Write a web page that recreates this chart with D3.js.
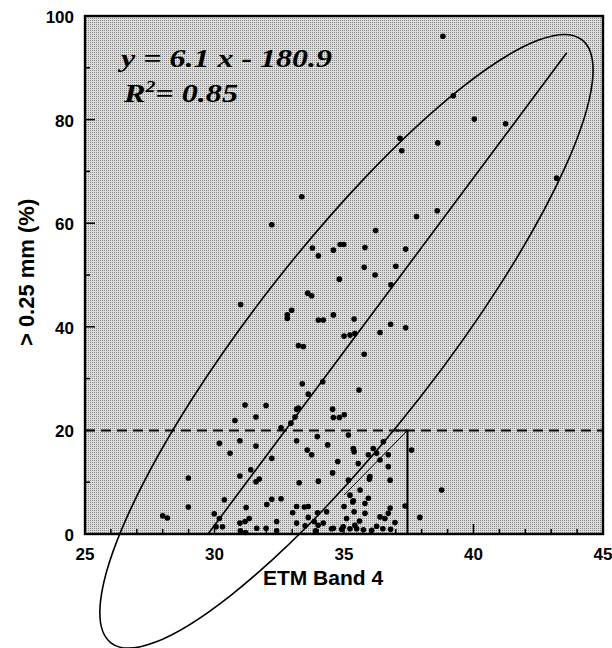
<!DOCTYPE html>
<html>
<head>
<meta charset="utf-8">
<script src="https://cdn.jsdelivr.net/npm/d3@7/dist/d3.min.js"></script>
<style>
  body { margin: 0; background: #fff; }
  svg { display: block; }
  .tick-label { font-family: Arial, "Liberation Sans", sans-serif; font-weight: bold; font-size: 17px; }
</style>
</head>
<body>
<div id="chart"></div>
<script>
// ETM Band 4 reflectance vs. share of aggregates > 0.25 mm
const pointsUpper = [
  [38.82, 96.1], [39.22, 84.6], [40.03, 80.1], [41.24, 79.2], [37.16, 76.4], [37.23, 74.0],
  [38.62, 75.5], [43.21, 68.7], [38.60, 62.4], [37.8, 61.3], [33.37, 65.1], [32.21, 59.7],
  [33.78, 55.2], [34.01, 53.7], [34.59, 54.8], [34.85, 55.9], [34.99, 55.9], [34.82, 49.2],
  [33.6, 46.5], [33.75, 46.0], [31.01, 44.3], [32.98, 43.2], [32.81, 42.3], [32.81, 41.6],
  [34.01, 41.3], [34.2, 41.3], [34.59, 42.3], [35.39, 41.5], [35.0, 38.2], [35.23, 38.4],
  [35.42, 38.7], [33.24, 36.4], [33.43, 36.2], [33.39, 29.0], [34.18, 29.4], [33.62, 27.0],
  [35.58, 27.8], [35.81, 55.3], [37.38, 55.0], [35.78, 51.5], [36.2, 50.0], [37.0, 51.7],
  [36.81, 48.1], [36.22, 58.6], [36.8, 40.5], [37.38, 39.8], [36.39, 38.9], [35.78, 34.7],
  [31.18, 24.9], [31.99, 24.8], [33.24, 24.3]
];
const pointsLower = [
  [31.6, 22.6], [30.79, 21.9], [30.19, 17.5], [30.98, 18.0], [31.6, 17.0], [30.6, 15.6],
  [32.21, 14.6], [31.4, 12.4], [30.98, 11.2], [31.73, 10.6], [31.6, 10.1], [28.99, 10.8],
  [30.38, 6.6], [28.99, 5.2], [31.22, 5.1], [32.02, 5.7], [32.21, 6.7], [28.0, 3.5],
  [28.18, 3.1], [30.19, 3.0], [30.98, 2.1], [31.18, 2.4], [31.34, 3.0], [32.4, 2.4],
  [30.31, 1.4], [31.63, 1.1], [31.99, 1.1], [32.4, 0.6], [31.0, 0.6], [31.2, 0.3],
  [29.99, 3.9], [30.06, 1.4], [32.57, 6.8], [33.17, 5.3], [33.27, 9.9], [33.58, 16.2],
  [33.75, 15.3], [33.17, 18.0], [32.57, 20.5], [32.95, 21.4], [33.17, 24.1], [34.56, 24.1],
  [34.59, 22.5], [34.82, 22.5], [35.01, 23.0], [33.97, 18.8], [34.37, 17.2], [35.17, 19.1],
  [35.36, 16.5], [35.39, 15.9], [34.76, 14.0], [34.56, 11.8], [34.01, 10.2], [35.17, 10.4],
  [35.0, 5.3], [35.34, 6.2], [35.39, 4.3], [33.47, 5.2], [33.62, 5.3], [33.98, 4.1],
  [34.33, 4.3], [33.02, 4.1], [33.17, 2.1], [33.62, 3.2], [33.85, 2.4], [34.0, 1.7],
  [34.2, 2.1], [34.59, 1.1], [34.97, 1.4], [35.42, 1.7], [33.11, 22.6], [36.13, 16.5],
  [36.26, 15.6], [35.94, 15.3], [35.55, 13.6], [36.39, 14.3], [36.71, 15.3], [36.71, 13.0],
  [37.61, 16.2], [35.98, 10.6], [36.78, 10.4], [35.62, 8.5], [35.81, 5.9], [37.36, 5.4],
  [35.81, 4.0], [36.39, 3.3], [36.58, 3.0], [36.71, 4.0], [36.97, 2.2], [35.1, 3.0],
  [34.52, 1.0], [34.91, 0.9], [35.23, 1.0], [35.49, 1.0], [35.75, 0.8], [36.07, 0.7],
  [36.26, 1.5], [33.5, 1.6], [33.9, 0.6], [36.52, 17.8], [36.0, 11.1], [35.23, 7.5],
  [35.36, 6.4], [35.94, 6.9], [36.78, 5.0], [36.5, 1.0], [36.8, 0.9], [35.6, 2.5],
  [38.77, 8.5], [37.93, 3.2]
];

const xTickValues = [25, 30, 35, 40, 45];
const yTickValues = [0, 20, 40, 60, 80, 100];

// fitted line as drawn, ellipse ends, threshold box
const regLine = [[29.75, 0], [43.6, 92.9]];
const ellipseEnds = [[26.0, -21.0], [44.19, 95.4]];
const ellipseRatio = 0.242;
const threshold = 20;
const boxX = 37.45;
const boxTopFrom = 37.0;
const boxInner = [[37.45, 20], [35.0, 7.5]];

const equationText = 'y = 6.1 x - 180.9';
const r2Value = '0.85';

const width = 612, height = 648;
const margin = {top: 16, right: 9, bottom: 114, left: 85};

const svg = d3.select('#chart').append('svg')
  .attr('width', width)
  .attr('height', height);

const x = d3.scaleLinear().domain([25, 45]).range([margin.left, width - margin.right]);
const y = d3.scaleLinear().domain([0, 100]).range([height - margin.bottom, margin.top]);

// halftone background
const defs = svg.append('defs');
const pat = defs.append('pattern')
  .attr('id', 'stipple')
  .attr('width', 2).attr('height', 2)
  .attr('patternUnits', 'userSpaceOnUse');
pat.append('rect').attr('width', 2).attr('height', 2).attr('fill', '#dcdcdc');
pat.append('rect').attr('width', 1).attr('height', 1).attr('fill', '#8a8a8a');

svg.append('rect')
  .attr('x', x(25)).attr('y', y(100))
  .attr('width', x(45) - x(25)).attr('height', y(0) - y(100))
  .attr('fill', 'url(#stipple)');

// ticks pointing inwards
const xMinor = d3.range(25, 46, 1);
svg.append('g').selectAll('line')
  .data(xMinor)
  .enter().append('line')
  .attr('x1', d => x(d)).attr('x2', d => x(d))
  .attr('y1', y(0))
  .attr('y2', d => y(0) - (d % 5 === 0 ? 10 : 5))
  .attr('stroke', '#000').attr('stroke-width', 1.5);

const yMinor = d3.range(0, 101, 10);
svg.append('g').selectAll('line')
  .data(yMinor)
  .enter().append('line')
  .attr('y1', d => y(d)).attr('y2', d => y(d))
  .attr('x1', x(25))
  .attr('x2', d => x(25) + (d % 20 === 0 ? 10 : 5))
  .attr('stroke', '#000').attr('stroke-width', 1.5);

svg.append('g').selectAll('text')
  .data(xTickValues)
  .enter().append('text')
  .attr('class', 'tick-label')
  .attr('x', d => x(d))
  .attr('y', y(0) + 26)
  .attr('text-anchor', 'middle')
  .text(d => d);

svg.append('g').selectAll('text')
  .data(yTickValues)
  .enter().append('text')
  .attr('class', 'tick-label')
  .attr('x', x(25) - 11)
  .attr('y', d => y(d) + 7)
  .attr('text-anchor', 'end')
  .text(d => d);

// dashed 20 % line
svg.append('line')
  .attr('x1', x(25)).attr('x2', x(45))
  .attr('y1', y(threshold)).attr('y2', y(threshold))
  .attr('stroke', '#000').attr('stroke-width', 2)
  .attr('stroke-dasharray', '10,6');

// box at the lower right of the fit
svg.append('path')
  .attr('d', d3.line()([[x(boxTopFrom), y(threshold)], [x(boxX), y(threshold)], [x(boxX), y(0)]]))
  .attr('fill', 'none').attr('stroke', '#000').attr('stroke-width', 2);
svg.append('line')
  .attr('x1', x(boxInner[0][0])).attr('y1', y(boxInner[0][1]))
  .attr('x2', x(boxInner[1][0])).attr('y2', y(boxInner[1][1]))
  .attr('stroke', '#000').attr('stroke-width', 1);

// points
const allPoints = pointsUpper.concat(pointsLower);
svg.append('g').selectAll('circle')
  .data(allPoints)
  .enter().append('circle')
  .attr('cx', d => x(d[0]))
  .attr('cy', d => y(d[1]))
  .attr('r', 2.8)
  .attr('fill', '#000');

// regression line
svg.append('line')
  .attr('x1', x(regLine[0][0])).attr('y1', y(regLine[0][1]))
  .attr('x2', x(regLine[1][0])).attr('y2', y(regLine[1][1]))
  .attr('stroke', '#000').attr('stroke-width', 1.6);

// confidence ellipse
const e0 = [x(ellipseEnds[0][0]), y(ellipseEnds[0][1])];
const e1 = [x(ellipseEnds[1][0]), y(ellipseEnds[1][1])];
const ecx = (e0[0] + e1[0]) / 2, ecy = (e0[1] + e1[1]) / 2;
const erx = Math.hypot(e1[0] - e0[0], e1[1] - e0[1]) / 2;
const eang = Math.atan2(e1[1] - e0[1], e1[0] - e0[0]) * 180 / Math.PI;
svg.append('ellipse')
  .attr('cx', 0).attr('cy', 0)
  .attr('rx', erx).attr('ry', erx * ellipseRatio)
  .attr('transform', 'translate(' + ecx + ',' + ecy + ') rotate(' + eang + ')')
  .attr('fill', 'none').attr('stroke', '#000').attr('stroke-width', 1.6);

// frame
svg.append('rect')
  .attr('x', x(25)).attr('y', y(100))
  .attr('width', x(45) - x(25)).attr('height', y(0) - y(100))
  .attr('fill', 'none').attr('stroke', '#000').attr('stroke-width', 2.4);

// equation
const eq = svg.append('g')
  .style('font-family', '"Liberation Serif", "Times New Roman", serif')
  .style('font-weight', 'bold').style('font-style', 'italic')
  .style('font-size', '26px');
eq.append('text').attr('x', 121).attr('y', 67)
  .attr('textLength', 211).attr('lengthAdjust', 'spacingAndGlyphs')
  .text(equationText);
const r2 = eq.append('text').attr('x', 124).attr('y', 102)
  .attr('textLength', 114).attr('lengthAdjust', 'spacingAndGlyphs');
r2.append('tspan').text('R');
r2.append('tspan').attr('dy', -10).style('font-size', '16px').text('2');
r2.append('tspan').attr('dy', 10).text('= ' + r2Value);

// axis titles
svg.append('text')
  .attr('x', 323)
  .attr('y', 585)
  .attr('text-anchor', 'middle')
  .style('font-family', 'Arial, "Liberation Sans", sans-serif')
  .style('font-weight', 'bold').style('font-size', '21px')
  .text('ETM Band 4');

svg.append('text')
  .attr('transform', 'translate(34,' + y(50.5) + ') rotate(-90)')
  .attr('text-anchor', 'middle')
  .style('font-family', 'Arial, "Liberation Sans", sans-serif')
  .style('font-weight', 'bold').style('font-size', '22px')
  .text('> 0.25 mm (%)');
</script>
</body>
</html>
